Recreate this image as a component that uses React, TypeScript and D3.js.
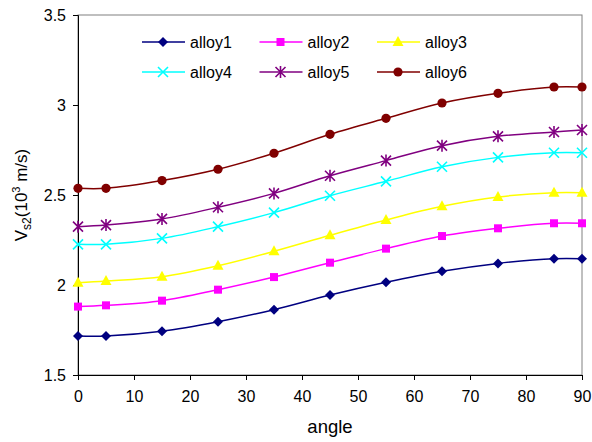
import * as d3 from "d3";
import { useEffect, useRef } from "react";

const angles = [0, 5, 15, 25, 35, 45, 55, 65, 75, 85, 90];
const alloy1 = [1.717, 1.717, 1.743, 1.796, 1.863, 1.944, 2.015, 2.076, 2.12, 2.146, 2.146];
const alloy2 = [1.88, 1.887, 1.913, 1.974, 2.044, 2.124, 2.202, 2.272, 2.315, 2.343, 2.343];
const alloy3 = [2.013, 2.022, 2.046, 2.107, 2.187, 2.276, 2.361, 2.437, 2.489, 2.513, 2.513];
const alloy4 = [2.226, 2.226, 2.259, 2.324, 2.402, 2.496, 2.576, 2.657, 2.709, 2.735, 2.735];
const alloy5 = [2.324, 2.333, 2.367, 2.432, 2.509, 2.607, 2.691, 2.774, 2.826, 2.85, 2.861];
const alloy6 = [2.537, 2.537, 2.58, 2.643, 2.732, 2.837, 2.926, 3.011, 3.065, 3.1, 3.1];
const seriesNames = ["alloy1", "alloy2", "alloy3", "alloy4", "alloy5", "alloy6"];
const seriesColors = ["#000080", "#FF00FF", "#FFFF00", "#00FFFF", "#800080", "#800000"];
const seriesMarkers = ["diamond", "square", "triangle", "cross", "star", "circle"];
const xTicks = [0, 10, 20, 30, 40, 50, 60, 70, 80, 90];
const yTicks = [1.5, 2, 2.5, 3, 3.5];

const FONT = "'Liberation Sans', Arial, sans-serif";

const drawMarker = (g, type, color, cx, cy) => {
  if (type === "diamond") {
    g.append("path")
      .attr("d", `M${cx},${cy - 5}L${cx + 5},${cy}L${cx},${cy + 5}L${cx - 5},${cy}Z`)
      .attr("fill", color);
  } else if (type === "square") {
    g.append("rect")
      .attr("x", cx - 4)
      .attr("y", cy - 4)
      .attr("width", 8)
      .attr("height", 8)
      .attr("fill", color);
  } else if (type === "triangle") {
    g.append("path")
      .attr("d", `M${cx},${cy - 6}L${cx + 5.5},${cy + 4}L${cx - 5.5},${cy + 4}Z`)
      .attr("fill", color);
  } else if (type === "cross") {
    g.append("path")
      .attr("d", `M${cx - 5},${cy - 5}L${cx + 5},${cy + 5}M${cx - 5},${cy + 5}L${cx + 5},${cy - 5}`)
      .attr("stroke", color)
      .attr("stroke-width", 1.6);
  } else if (type === "star") {
    g.append("path")
      .attr(
        "d",
        `M${cx - 5},${cy - 5}L${cx + 5},${cy + 5}M${cx - 5},${cy + 5}L${cx + 5},${cy - 5}M${cx},${cy - 6}L${cx},${cy + 6}`
      )
      .attr("stroke", color)
      .attr("stroke-width", 1.6);
  } else {
    g.append("circle").attr("cx", cx).attr("cy", cy).attr("r", 4.6).attr("fill", color);
  }
};

const App = () => {
  const width = 592;
  const height = 442;
  const margin = { top: 15, bottom: 67, right: 10, left: 78 };
  const svgRef = useRef(null);

  useEffect(() => {
    if (!svgRef.current) return;
    const svg = d3.select(svgRef.current);
    svg.selectAll("*").remove();

    const plotWidth = width - margin.left - margin.right;
    const plotHeight = height - margin.top - margin.bottom;
    const x = d3.scaleLinear([0, 90], [margin.left, margin.left + plotWidth]);
    const y = d3.scaleLinear([1.5, 3.5], [margin.top + plotHeight, margin.top]);

    const seriesValues = [alloy1, alloy2, alloy3, alloy4, alloy5, alloy6];

    // plot area frame (grey top/right)
    svg
      .append("rect")
      .attr("x", margin.left)
      .attr("y", margin.top)
      .attr("width", plotWidth)
      .attr("height", plotHeight)
      .attr("fill", "white")
      .attr("stroke", "#808080")
      .attr("stroke-width", 1);

    const yAxis = d3.axisLeft(y).tickValues(yTicks).tickSize(5).tickPadding(7).tickFormat(d3.format("~g"));
    const gy = svg.append("g").attr("transform", `translate(${margin.left},0)`).call(yAxis);
    const xAxis = d3.axisBottom(x).tickValues(xTicks).tickSize(5).tickPadding(11);
    const gx = svg.append("g").attr("transform", `translate(0,${margin.top + plotHeight})`).call(xAxis);
    [gx, gy].forEach((g) => {
      g.select(".domain").attr("stroke", "black");
      g.selectAll(".tick line").attr("stroke", "black");
      g.selectAll("text").attr("font-family", FONT).attr("font-size", 16).attr("fill", "black");
    });

    const line = d3
      .line()
      .x((d) => x(d[0]))
      .y((d) => y(d[1]))
      .curve(d3.curveCatmullRom.alpha(0.5));

    seriesValues.forEach((vals, i) => {
      const pts = angles.map((a, j) => [a, vals[j]]);
      svg
        .append("path")
        .attr("d", line(pts))
        .attr("fill", "none")
        .attr("stroke", seriesColors[i])
        .attr("stroke-width", 1.5);
      const mg = svg.append("g");
      pts.forEach((p) => drawMarker(mg, seriesMarkers[i], seriesColors[i], x(p[0]), y(p[1])));
    });

    // legend
    const legend = svg.append("g");
    seriesNames.forEach((name, i) => {
      const col = i % 3;
      const row = Math.floor(i / 3);
      const lx = 142 + col * 117.5;
      const ly = 42 + row * 30;
      legend
        .append("line")
        .attr("x1", lx)
        .attr("x2", lx + 43)
        .attr("y1", ly)
        .attr("y2", ly)
        .attr("stroke", seriesColors[i])
        .attr("stroke-width", 1.5);
      drawMarker(legend, seriesMarkers[i], seriesColors[i], lx + 21, ly);
      legend
        .append("text")
        .attr("x", lx + 48)
        .attr("y", ly)
        .attr("dy", "0.36em")
        .attr("font-family", FONT)
        .attr("font-size", 16)
        .text(name);
    });

    // axis titles
    svg
      .append("text")
      .attr("x", margin.left + plotWidth / 2)
      .attr("y", 433)
      .attr("text-anchor", "middle")
      .attr("font-family", FONT)
      .attr("font-size", 18.5)
      .text("angle");

    const yl = svg
      .append("text")
      .attr("transform", `translate(27,${margin.top + plotHeight / 2}) rotate(-90)`)
      .attr("text-anchor", "middle")
      .attr("font-family", FONT)
      .attr("font-size", 17);
    yl.append("tspan").text("V");
    yl.append("tspan").attr("font-size", 12).attr("dy", 4).text("s2");
    yl.append("tspan").attr("dy", -4).text("(10");
    yl.append("tspan").attr("font-size", 11).attr("dy", -7).text("3");
    yl.append("tspan").attr("dy", 7).text(" m/s)");
  }, []);

  return (
    <svg
      width={width}
      height={height}
      ref={svgRef}
      style={{ position: "absolute", left: 0, top: 0, background: "white" }}
    ></svg>
  );
};

export default App;
